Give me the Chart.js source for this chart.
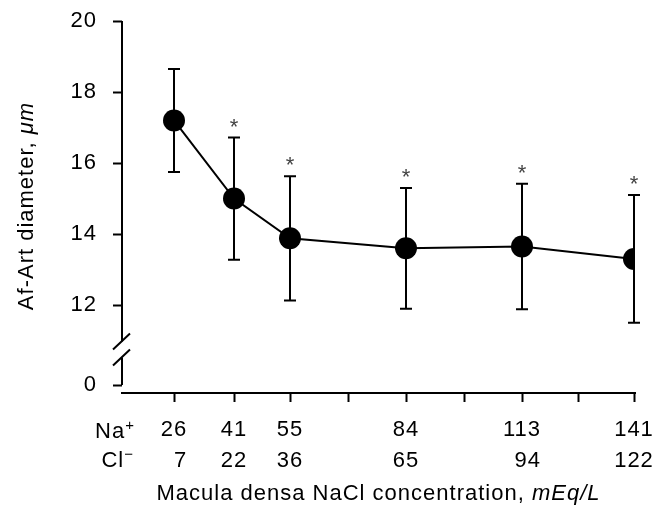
<!DOCTYPE html>
<html>
<head>
<meta charset="utf-8">
<script src="https://cdn.jsdelivr.net/npm/chart.js@4.4.1/dist/chart.umd.min.js"></script>
<style>
  html, body { margin: 0; padding: 0; background: #fff; }
  canvas { display: block; }
</style>
</head>
<body>
<canvas id="diameter" width="655" height="520"></canvas>
<script>
  // Na+ and Cl- concentrations at the macula densa (mEq/L)
  const naConc = [26, 41, 55, 84, 113, 141];
  const clConc = [7, 22, 36, 65, 94, 122];
  // afferent arteriole diameter (um), mean and error bar
  const diameter = [17.2, 15.0, 13.88, 13.6, 13.65, 13.3];
  const diameterErr = [1.45, 1.72, 1.75, 1.7, 1.77, 1.8];
  const significant = [false, true, true, true, true, true];

  // y axis is broken: the "0" tick sits just below the break
  const yTicks = [12, 14, 16, 18, 20];
  const yZeroPos = 9.75;
  const yBreakPos = 10.75;
  const xMinorTicks = [69.5, 98.5, 127];

  const FONT = "'Liberation Sans', Arial, Helvetica, sans-serif";

  // draws a name with a raised sign, right edge at xr
  function rowName(ctx, name, sign, xr, base) {
    ctx.font = '22px ' + FONT;
    const w = ctx.measureText(name).width;
    ctx.font = '15px ' + FONT;
    const s = ctx.measureText(sign).width;
    ctx.textAlign = 'left';
    ctx.font = '22px ' + FONT;
    ctx.fillText(name, xr - w - s, base);
    ctx.font = '15px ' + FONT;
    ctx.fillText(sign, xr - s, base - 8);
  }

  const extras = {
    id: 'extras',
    beforeUpdate(chart) {
      chart.ctx.letterSpacing = '1px';
    },
    beforeDatasetsDraw(chart) {
      const ctx = chart.ctx;
      const x = chart.scales.x, y = chart.scales.y;
      ctx.save();
      ctx.strokeStyle = '#000';
      ctx.lineWidth = 2;
      naConc.forEach((na, i) => {
        const px = x.getPixelForValue(na);
        const top = y.getPixelForValue(diameter[i] + diameterErr[i]);
        const bot = y.getPixelForValue(diameter[i] - diameterErr[i]);
        ctx.beginPath();
        ctx.moveTo(px, top); ctx.lineTo(px, bot);
        ctx.moveTo(px - 6, top); ctx.lineTo(px + 6, top);
        ctx.moveTo(px - 6, bot); ctx.lineTo(px + 6, bot);
        ctx.stroke();
      });
      ctx.restore();
    },
    afterDraw(chart) {
      const ctx = chart.ctx;
      const x = chart.scales.x, y = chart.scales.y;
      const area = chart.chartArea;
      ctx.save();

      // y axis line with break marks
      const yb = y.getPixelForValue(yBreakPos);
      const ax = area.left;
      ctx.strokeStyle = '#000';
      ctx.lineWidth = 2;
      ctx.beginPath();
      ctx.moveTo(ax, y.getPixelForValue(20));
      ctx.lineTo(ax, yb - 8);
      ctx.moveTo(ax, yb + 8);
      ctx.lineTo(ax, y.getPixelForValue(yZeroPos));
      ctx.stroke();
      ctx.beginPath();
      ctx.moveTo(ax - 9, yb - 0); ctx.lineTo(ax + 8, yb - 16);
      ctx.moveTo(ax - 9, yb + 16); ctx.lineTo(ax + 8, yb);
      ctx.stroke();

      // significance marks
      ctx.fillStyle = '#444';
      ctx.font = '22px ' + FONT;
      ctx.textAlign = 'center';
      ctx.textBaseline = 'middle';
      naConc.forEach((na, i) => {
        if (!significant[i]) return;
        const px = x.getPixelForValue(na);
        const top = y.getPixelForValue(diameter[i] + diameterErr[i]);
        ctx.fillText('*', px + 0.5, top - 10);
      });

      // Cl- row, right aligned with Na+ labels
      ctx.fillStyle = '#000';
      ctx.font = '22px ' + FONT;
      ctx.textBaseline = 'alphabetic';
      ctx.textAlign = 'right';
      naConc.forEach((na, i) => {
        const px = x.getPixelForValue(na);
        const w = ctx.measureText(String(na)).width;
        ctx.fillText(String(clConc[i]), px + w / 2, 467);
      });

      // row names
      rowName(ctx, 'Na', '+', 135, 438);
      rowName(ctx, 'Cl', '\u2212', 134, 467);

      // x title
      const xt1 = 'Macula densa NaCl concentration, ';
      const xt2 = 'mEq/L';
      ctx.textAlign = 'left';
      ctx.font = '22px ' + FONT;
      const w1 = ctx.measureText(xt1).width;
      ctx.font = 'italic 22px ' + FONT;
      const w2 = ctx.measureText(xt2).width;
      const xs = (area.left + area.right) / 2 - (w1 + w2) / 2;
      ctx.font = '22px ' + FONT;
      ctx.fillText(xt1, xs, 500);
      ctx.font = 'italic 22px ' + FONT;
      ctx.fillText(xt2, xs + w1, 500);

      // y title
      const yt1 = 'Af-Art diameter, ';
      const yt2 = '\u03bcm';
      ctx.font = '22px ' + FONT;
      const v1 = ctx.measureText(yt1).width;
      ctx.font = 'italic 22px ' + FONT;
      const v2 = ctx.measureText(yt2).width;
      ctx.translate(33, 206);
      ctx.rotate(-Math.PI / 2);
      ctx.font = '22px ' + FONT;
      ctx.fillText(yt1, -(v1 + v2) / 2, 0);
      ctx.font = 'italic 22px ' + FONT;
      ctx.fillText(yt2, -(v1 + v2) / 2 + v1, 0);
      ctx.restore();
    }
  };

  const canvas = document.getElementById('diameter');
  const chart = new Chart(canvas, {
    type: 'line',
    data: {
      datasets: [{
        label: 'Af-Art diameter',
        data: naConc.map((na, i) => ({ x: na, y: diameter[i] })),
        borderColor: '#000',
        borderWidth: 2,
        backgroundColor: '#000',
        pointRadius: 11,
        pointBorderWidth: 0,
        pointBackgroundColor: '#000',
        tension: 0,
      }],
    },
    options: {
      responsive: false,
      animation: false,
      devicePixelRatio: 1,
      layout: { padding: { top: 21, right: 20, left: 0, bottom: 0 } },
      plugins: { legend: { display: false }, tooltip: { enabled: false } },
      scales: {
        x: {
          type: 'linear',
          min: 13,
          max: 141.25,
          afterBuildTicks(scale) {
            scale.ticks = naConc.concat(xMinorTicks).sort((a, b) => a - b).map(v => ({ value: v }));
          },
          afterFit(scale) {
            scale.height = 127;
            scale.paddingLeft = 0;
            scale.paddingRight = 0;
          },
          ticks: {
            autoSkip: false,
            maxRotation: 0,
            padding: 15,
            color: '#000',
            font: { family: FONT, size: 22 },
            callback: v => naConc.includes(v) ? String(v) : '',
          },
          grid: { drawOnChartArea: false, tickLength: 9, tickWidth: 2, tickColor: '#000' },
          border: { display: true, color: '#000', width: 2 },
        },
        y: {
          type: 'linear',
          min: 9.525,
          max: 20,
          afterBuildTicks(scale) {
            scale.ticks = [yZeroPos].concat(yTicks).map(v => ({ value: v }));
          },
          afterFit(scale) {
            scale.width = 122;
            scale.paddingTop = 0;
            scale.paddingBottom = 0;
          },
          ticks: {
            autoSkip: false,
            padding: 16,
            color: '#000',
            font: { family: FONT, size: 22 },
            callback: v => v === yZeroPos ? '0' : String(v),
          },
          grid: { drawOnChartArea: false, tickLength: 9, tickWidth: 2, tickColor: '#000' },
          border: { display: false },
        },
      },
    },
    plugins: [extras],
  });
</script>
</body>
</html>
